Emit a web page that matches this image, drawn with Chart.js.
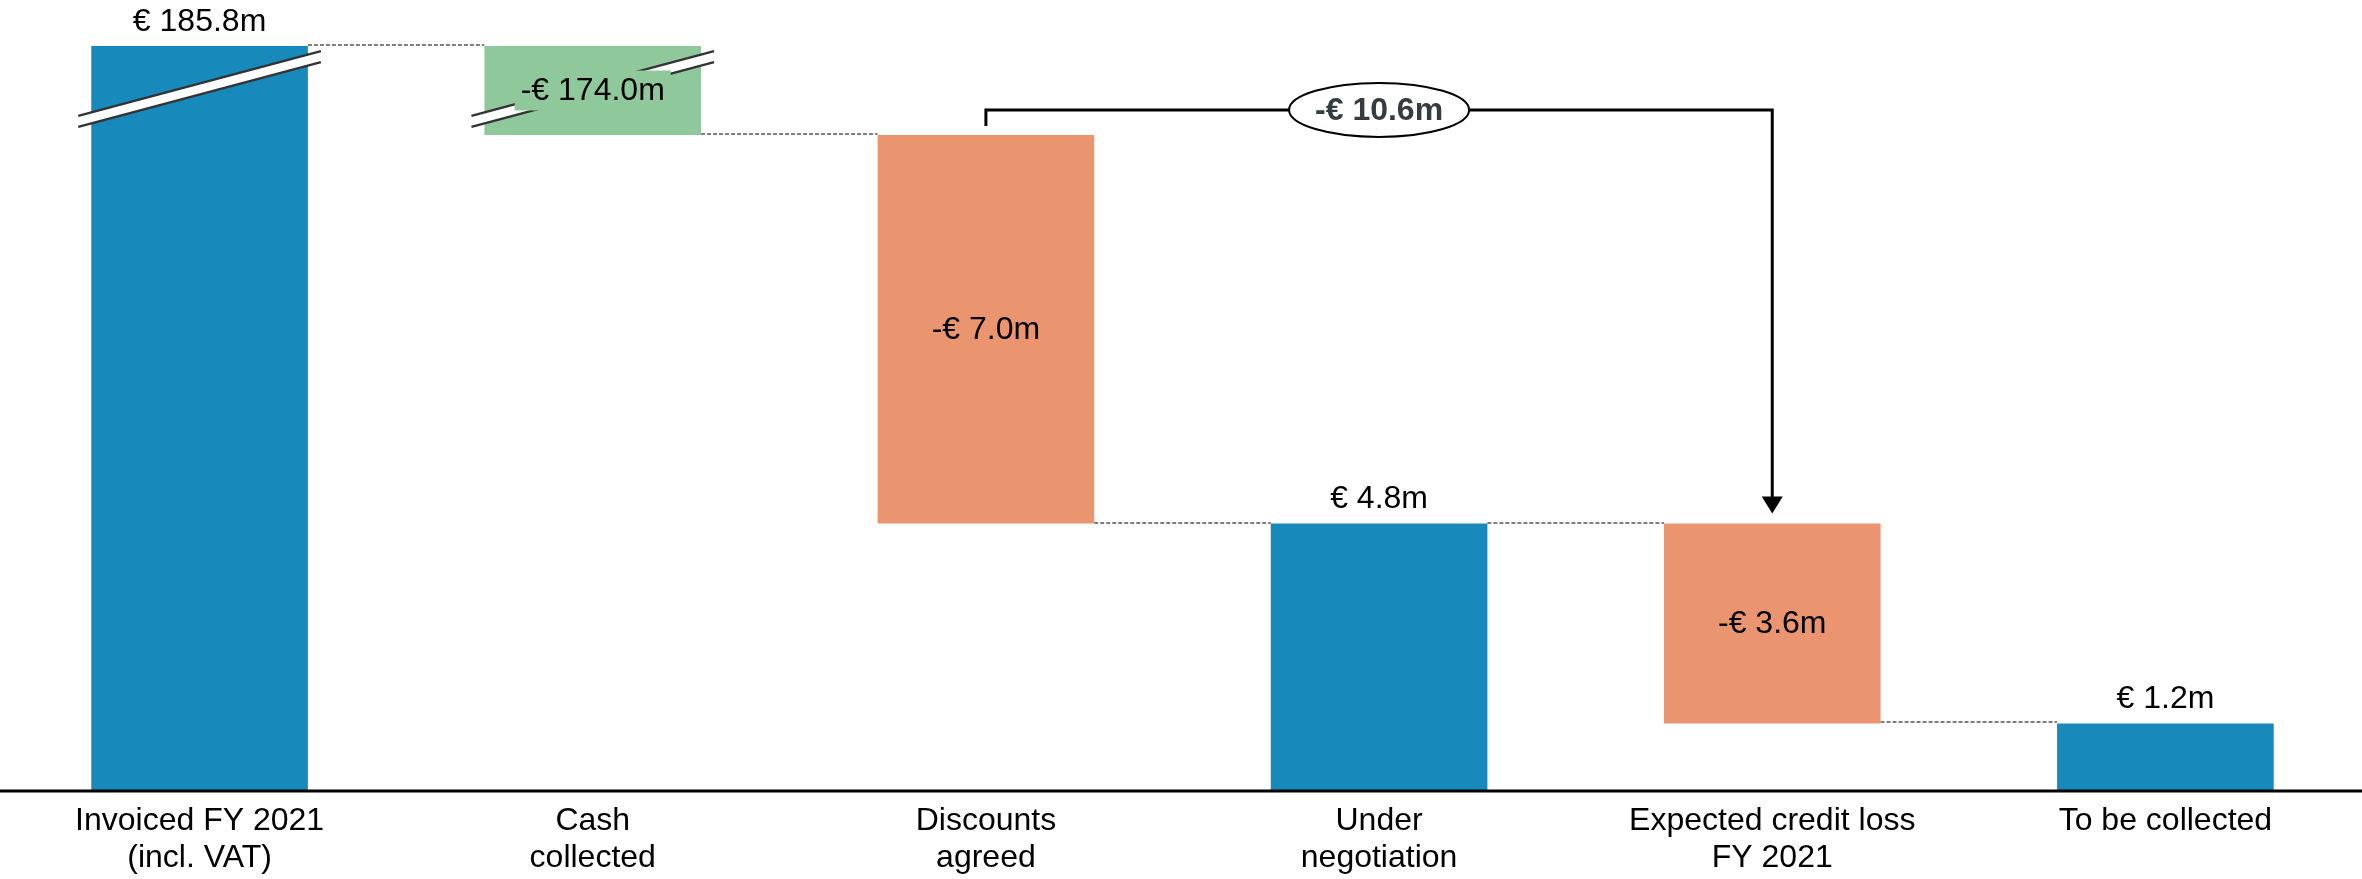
<!DOCTYPE html>
<html>
<head>
<meta charset="utf-8">
<script src="https://cdn.jsdelivr.net/npm/chart.js@4/dist/chart.umd.min.js"></script>
<style>
  html, body { margin: 0; padding: 0; background: #fff; }
</style>
</head>
<body>
<canvas id="waterfall" width="2362" height="879"></canvas>
<script>
const categories = [
    ['Invoiced FY 2021', '(incl. VAT)'],
    ['Cash', 'collected'],
    ['Discounts', 'agreed'],
    ['Under', 'negotiation'],
    ['Expected credit loss', 'FY 2021'],
    ['To be collected']
];
const values = [185.8, -174.0, -7.0, 4.8, -3.6, 1.2];
const isTotal = [true, false, false, true, false, true];
const valueLabels = ['€ 185.8m', '-€ 174.0m', '-€ 7.0m', '€ 4.8m', '-€ 3.6m', '€ 1.2m'];
const barColors = ['#1789bb', '#8fc89a', '#eb9470', '#1789bb', '#eb9470', '#1789bb'];

// bracket over the two loss bars
const bracketFrom = 2;
const bracketTo = 4;
const bracketLabel = '-€ 10.6m';

// the axis is broken: anything above breakAt is cut off at breakTop
const breakAt = 13;
const breakTop = 13.4;
const yMax = 14.23;

const FONT = '"Liberation Sans", Arial, Helvetica, sans-serif';

const clipVal = v => (v > breakAt ? breakTop : v);

let running = 0;
const ranges = [];
const levels = [];
const broken = [];
values.forEach((v, i) => {
    let lo, hi;
    if (isTotal[i]) {
        lo = 0; hi = v; running = v;
    } else {
        lo = running + v; hi = running; running += v;
    }
    broken.push(hi > breakAt);
    ranges.push([clipVal(lo), clipVal(hi)]);
    levels.push(clipVal(running));
});

const waterfallExtras = {
    id: 'waterfallExtras',
    afterDatasetsDraw(chart) {
        const ctx = chart.ctx;
        const meta = chart.getDatasetMeta(0);
        const ys = chart.scales.y;
        const bars = meta.data;
        ctx.save();

        // dashed connectors
        ctx.strokeStyle = '#555555';
        ctx.lineWidth = 1.5;
        ctx.setLineDash([4, 2]);
        for (let i = 0; i < bars.length - 1; i++) {
            const a = bars[i], b = bars[i + 1];
            const ly = Math.round(ys.getPixelForValue(levels[i])) - 1;
            ctx.beginPath();
            ctx.moveTo(a.x + a.width / 2, ly);
            ctx.lineTo(b.x - b.width / 2, ly);
            ctx.stroke();
        }
        ctx.setLineDash([]);

        // break marks
        bars.forEach((el, i) => {
            if (!broken[i]) return;
            const top = ys.getPixelForValue(ranges[i][1]);
            const half = el.width / 2 + 13;
            const slope = 0.267;
            const y0 = top + 37.4;
            const gap = 11;
            const xl = el.x - half, xr = el.x + half;
            const yl = y0 + half * slope, yr = y0 - half * slope;
            ctx.fillStyle = '#ffffff';
            ctx.beginPath();
            ctx.moveTo(xl, yl);
            ctx.lineTo(xr, yr);
            ctx.lineTo(xr, yr + gap);
            ctx.lineTo(xl, yl + gap);
            ctx.closePath();
            ctx.fill();
            ctx.strokeStyle = '#333333';
            ctx.lineWidth = 2.5;
            ctx.beginPath();
            ctx.moveTo(xl, yl); ctx.lineTo(xr, yr);
            ctx.moveTo(xl, yl + gap); ctx.lineTo(xr, yr + gap);
            ctx.stroke();
        });

        // value labels
        ctx.font = '32px ' + FONT;
        ctx.textAlign = 'center';
        ctx.textBaseline = 'middle';
        bars.forEach((el, i) => {
            const top = ys.getPixelForValue(ranges[i][1]);
            const bottom = ys.getPixelForValue(ranges[i][0]);
            let ty;
            if (isTotal[i]) {
                ty = top - 24;
            } else {
                ty = (top + bottom) / 2 + 1;
                if (broken[i]) {
                    const w = ctx.measureText(valueLabels[i]).width;
                    ctx.fillStyle = barColors[i];
                    ctx.fillRect(el.x - w / 2 - 6, ty - 21, w + 12, 40);
                }
            }
            ctx.fillStyle = '#000000';
            ctx.fillText(valueLabels[i], el.x, ty);
        });

        // bracket with total of losses
        const a = bars[bracketFrom], b = bars[bracketTo];
        const topA = ys.getPixelForValue(ranges[bracketFrom][1]);
        const topB = ys.getPixelForValue(ranges[bracketTo][1]);
        const by = Math.min(topA, topB) - 25;
        ctx.strokeStyle = '#000000';
        ctx.lineWidth = 3;
        ctx.beginPath();
        ctx.moveTo(a.x, topA - 9);
        ctx.lineTo(a.x, by);
        ctx.lineTo(b.x, by);
        ctx.lineTo(b.x, topB - 25);
        ctx.stroke();
        ctx.fillStyle = '#000000';
        ctx.beginPath();
        ctx.moveTo(b.x, topB - 10);
        ctx.lineTo(b.x - 10.5, topB - 27);
        ctx.lineTo(b.x + 10.5, topB - 27);
        ctx.closePath();
        ctx.fill();

        const ex = (a.x + b.x) / 2;
        ctx.beginPath();
        ctx.ellipse(ex, by, 90, 27, 0, 0, Math.PI * 2);
        ctx.fillStyle = '#ffffff';
        ctx.fill();
        ctx.lineWidth = 2;
        ctx.stroke();
        ctx.font = 'bold 32px ' + FONT;
        ctx.fillStyle = '#343b41';
        ctx.fillText(bracketLabel, ex, by + 1);

        // x axis line across the whole width
        ctx.strokeStyle = '#000000';
        ctx.lineWidth = 3;
        ctx.beginPath();
        ctx.moveTo(0, chart.chartArea.bottom + 1);
        ctx.lineTo(chart.width, chart.chartArea.bottom + 1);
        ctx.stroke();

        ctx.restore();
    }
};

new Chart(document.getElementById('waterfall').getContext('2d'), {
    type: 'bar',
    data: {
        labels: categories,
        datasets: [{
            data: ranges,
            backgroundColor: barColors,
            borderWidth: 0,
            categoryPercentage: 1,
            barPercentage: 0.551
        }]
    },
    options: {
        responsive: false,
        animation: false,
        layout: { padding: { left: 3, right: -3, top: 0, bottom: 0 } },
        plugins: {
            legend: { display: false },
            tooltip: { enabled: false }
        },
        scales: {
            x: {
                grid: { display: false, drawTicks: false },
                border: { display: false },
                ticks: {
                    color: '#000000',
                    padding: 13,
                    maxRotation: 0,
                    autoSkip: false,
                    font: { family: FONT, size: 32, lineHeight: 1.156 }
                },
                afterFit: scale => { scale.height = 89; }
            },
            y: {
                display: false,
                min: 0,
                max: yMax
            }
        }
    },
    plugins: [waterfallExtras]
});
</script>
</body>
</html>
